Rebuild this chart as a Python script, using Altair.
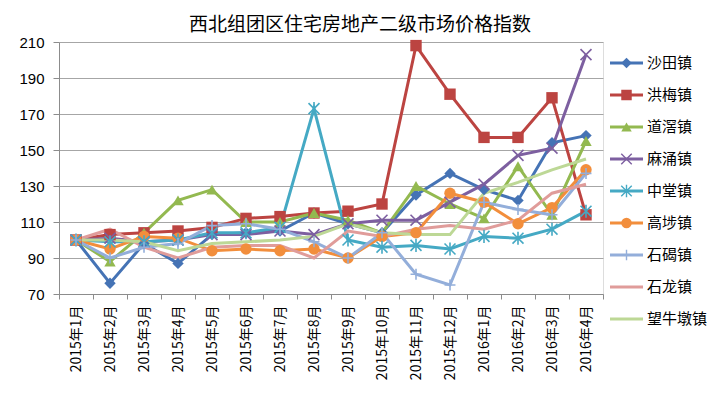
import altair as alt
import pandas as pd

months = ["2015年1月", "2015年2月", "2015年3月", "2015年4月", "2015年5月", "2015年6月",
          "2015年7月", "2015年8月", "2015年9月", "2015年10月", "2015年11月", "2015年12月",
          "2016年1月", "2016年2月", "2016年3月", "2016年4月"]

towns = ["沙田镇", "洪梅镇", "道滘镇", "麻涌镇", "中堂镇", "高埗镇", "石碣镇", "石龙镇", "望牛墩镇"]

shatian = [100, 76, 98, 87, 103, 104, 105, 115, 109, 104, 125, 137, 128, 122, 154, 158]
hongmei = [100, 103, 104, 105, 107, 112, 113, 115, 116, 120, 208, 181, 157, 157, 179, 114]
daojiao = [100, 88, 104, 122, 128, 110, 110, 115, 111, 104, 130, 120, 112, 141, 114, 155]
machong = [100, 101, 99, 100, 103, 103, 105, 103, 109, 111, 111, 121, 131, 147, 151, 203]
zhongtang = [100, 99, 99, 100, 104, 104, 107, 173, 100, 96, 97, 95, 102, 101, 106, 116]
gaobu = [100, 95, 102, 101, 94, 95, 94, 95, 90, 102, 104, 126, 121, 109, 118, 139]
shijie = [100, 90, 96, 98, 108, 109, 106, 99, 90, 104, 81, 75, 121, 117, 114, 137]
shilong = [100, 106, 96, 90, 96, 97, 97, 90, 105, 102, 106, 108, 106, 111, 126, 131]
wangniudun = [100, 100, 99, 94, 98, 99, 100, 102, 109, 104, 103, 103, 126, 132, 139, 145]

series = [shatian, hongmei, daojiao, machong, zhongtang, gaobu, shijie, shilong, wangniudun]

colors = ["#4573B5", "#BC4441", "#93B950", "#7D5FA0", "#45A9C4", "#F28E3C", "#93AEDA", "#E09C9A", "#BDD896"]

X_PATH = "M-1,-1L1,1M-1,1L1,-1"
AST_PATH = "M-1,-1L1,1M-1,1L1,-1M0,-1.2L0,1.2"
PLUS_PATH = "M-1,0L1,0M0,-1L0,1"
shapes = ["diamond", "square", "triangle-up", X_PATH, AST_PATH, "circle", PLUS_PATH, "circle", "circle"]

filled_towns = ["沙田镇", "洪梅镇", "道滘镇", "高埗镇"]
stroked_towns = ["麻涌镇", "中堂镇", "石碣镇"]

y_ticks = [70, 90, 110, 130, 150, 170, 190, 210]

rows = []
for t, vals in zip(towns, series):
    for m, v in zip(months, vals):
        rows.append({"town": t, "month": m, "value": v})
df = pd.DataFrame(rows)
leg = pd.DataFrame({"town": towns})

FONT = "Noto Sans CJK SC"

color = alt.Color("town:N", scale=alt.Scale(domain=towns, range=colors), legend=None)
shape = alt.Shape("town:N", scale=alt.Scale(domain=towns, range=shapes), legend=None)

x = alt.X("month:N", sort=months, title=None,
          scale=alt.Scale(type="band", paddingInner=0, paddingOuter=0),
          axis=alt.Axis(labelAngle=270, labelFontSize=14, labelFont=FONT, tickBand="extent",
                        tickSize=5, labelPadding=6, grid=False, labelColor="#000000",
                        domainColor="#8C8C8C", tickColor="#8C8C8C"))
y = alt.Y("value:Q", title=None,
          scale=alt.Scale(domain=[70, 210], nice=False, zero=False),
          axis=alt.Axis(values=y_ticks, labelFontSize=15, labelFont="Liberation Sans",
                        tickSize=6, labelPadding=9, grid=True, gridColor="#A6A6A6",
                        labelColor="#000000", domainColor="#8C8C8C", tickColor="#8C8C8C"))

base = alt.Chart(df)
lines = base.mark_line(strokeWidth=3).encode(x=x, y=y, color=color, detail="town:N")
pts_f = base.transform_filter(alt.FieldOneOfPredicate(field="town", oneOf=filled_towns)).mark_point(
    filled=True, size=130, opacity=1).encode(x=x, y=y, color=color, shape=shape)
pts_s = base.transform_filter(alt.FieldOneOfPredicate(field="town", oneOf=stroked_towns)).mark_point(
    filled=False, size=120, opacity=1, strokeWidth=1.6).encode(x=x, y=y, color=color, shape=shape)

main = alt.layer(lines, pts_f, pts_s)

ly = alt.Y("town:N", sort=towns, scale=alt.Scale(type="point", range=[21, 277], padding=0), axis=None)
lbase = alt.Chart(leg)
l_rule = lbase.mark_rule(strokeWidth=3).encode(x=alt.value(551), x2=alt.value(584), y=ly, color=color)
l_pf = lbase.transform_filter(alt.FieldOneOfPredicate(field="town", oneOf=filled_towns)).mark_point(
    filled=True, size=110, opacity=1).encode(x=alt.value(567.5), y=ly, color=color, shape=shape)
l_ps = lbase.transform_filter(alt.FieldOneOfPredicate(field="town", oneOf=stroked_towns)).mark_point(
    filled=False, size=110, opacity=1, strokeWidth=1.4).encode(x=alt.value(567.5), y=ly, color=color, shape=shape)
l_text = lbase.mark_text(align="left", baseline="middle", fontSize=15, font=FONT, color="#000000").encode(
    x=alt.value(588), y=ly, text="town:N")
legend = alt.layer(l_rule, l_pf, l_ps, l_text)

chart = alt.layer(main, legend).resolve_scale(y="independent").properties(
    width=544, height=252,
    title=alt.TitleParams("西北组团区住宅房地产二级市场价格指数", fontSize=19, font=FONT,
                          fontWeight="normal", anchor="middle", frame="group", dx=29,
                          offset=0, color="#000000"),
    autosize=alt.AutoSizeParams(type="none"),
    padding={"left": 51, "top": 34, "right": 109, "bottom": 86},
).configure_view(stroke=None).configure(background="white")

chart.save("out.html", embed_options={"renderer": "svg", "actions": False})
